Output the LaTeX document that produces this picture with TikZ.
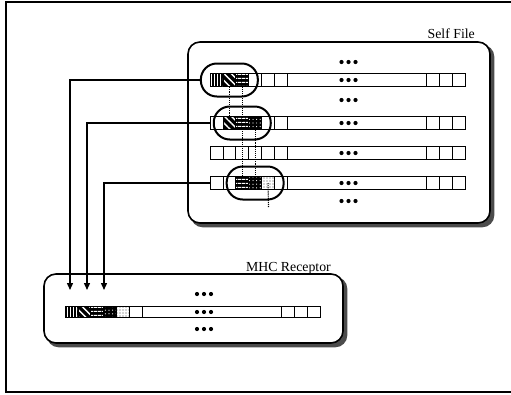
\documentclass[tikz,border=0pt]{standalone}
\usepackage{fontspec}
\setmainfont{Liberation Serif}
\usetikzlibrary{arrows.meta, patterns.meta, backgrounds, calc}
\tikzset{
  every node/.style={font=\fontsize{13.8}{16}\selectfont},
  filebox/.style = {rectangle, draw=black, line width=1.6pt, rounded corners=12pt, fill=white},
  shade/.style   = {fill=black!70, rounded corners=12pt},
  cell/.style  = {rectangle, draw=black, line width=0.7pt, fill=white, inner sep=0pt,
                  minimum width=12.9pt, minimum height=13pt},
  mcell/.style = {cell, minimum height=11pt},
  seg/.style   = {minimum width=139.3pt},
  pw/.style = {},
  pv/.style = {preaction={fill=black}, pattern={Lines[angle=90, distance=3.2pt, line width=0.7pt]}, pattern color=white},
  pd/.style = {preaction={fill=black}, pattern={Lines[angle=-45, distance=5pt, line width=1.4pt]}, pattern color=white},
  ph/.style = {preaction={fill=black}, pattern={Lines[angle=0, distance=4pt, line width=1.1pt]}, pattern color=white},
  pk/.style = {preaction={fill=black}, pattern={Dots[radius=0.6pt, distance=3.6pt, xshift=1pt, yshift=1pt]}, pattern color=white},
  pl/.style = {pattern={Dots[radius=0.6pt, distance=3pt]}, pattern color=black!70},
  ring/.style  = {rectangle, draw=black, line width=2pt, rounded corners=16pt,
                  minimum width=57pt, minimum height=33pt},
  arrow/.style = {-{Triangle[length=7pt,width=6pt]}, line width=1.3pt},
  trace/.style = {densely dotted, line width=1.1pt},
  title/.style = {inner sep=0pt, anchor=base east},
}

\begin{document}
\begin{tikzpicture}[x=1pt, y=-1pt]
  \useasboundingbox (0,0) rectangle (511,394);
  \draw[line width=1.2pt] (511,2) -- (6,2) -- (6,392) -- (511,392);

  % the two files
  \node[filebox, minimum width=302pt, minimum height=181pt] (self) at (339,132.5) {};
  \node[title] (selft) at (475,38) {Self File};
  \node[filebox, minimum width=299pt, minimum height=69pt] (mhc) at (193.5,308.5) {};
  \node[title] (mhct) at (331,271) {MHC Receptor};
  \begin{scope}[on background layer]
    \fill[shade] ($(self.south west)+(3.5,3.5)$) rectangle ($(self.north east)+(3.5,3.5)$);
    \fill[shade] ($(mhc.south west)+(3.5,3.5)$) rectangle ($(mhc.north east)+(3.5,3.5)$);
  \end{scope}

  % strings of the self file
  \foreach \row/\yy/\pats in {1/80/{pv,pd,ph,pw,pw,pw}, 2/123/{pw,pd,ph,pk,pw,pw},
                              3/153/{pw,pw,pw,pw,pw,pw}, 4/183/{pw,pw,ph,pk,pl,pw}} {
    \foreach \s [count=\i] in \pats
      \node[cell, \s] (r\row-\i) at ({210+\i*12.9-6.45}, \yy) {};
    \node[cell, seg] (r\row-L) at (357.05, \yy) {};
    \foreach \i in {7,8,9}
      \node[cell] (r\row-\i) at ({433.15+(\i-7)*12.9}, \yy) {};
  }

  % receptor string
  \foreach \s [count=\i] in {pv,pd,ph,pk,pl,pw}
    \node[mcell, \s] (m-\i) at ({65+\i*12.9-6.45}, 312) {};
  \node[mcell, seg] (m-L) at (212.05, 312) {};
  \foreach \i in {7,8,9}
    \node[mcell] (m-\i) at ({288.15+(\i-7)*12.9}, 312) {};

  % matched windows
  \node[ring] (e1) at (r1-2) {};
  \node[ring] (e2) at (r2-3) {};
  \node[ring] (e3) at (r4-4) {};

  \draw[trace] (r1-2.south) -- (r2-2.north);
  \draw[trace] (r1-3.south) -- (r4-3.north);
  \draw[trace] (r2-4.south) -- (r4-4.north);
  \coordinate (tail) at (268.5,207);
  \draw[trace] (r4-5.center) -- (tail);

  % ellipsis dots
  \foreach \yy in {62,80,100,123,153,183,201}
    \foreach \dx in {-7,0,7}
      \fill ({348.5+\dx},\yy) circle (2.1);
  \foreach \yy in {294,312,329}
    \foreach \dx in {-7,0,7}
      \fill ({204+\dx},\yy) circle (2.1);

  % connectors
  \coordinate (in1) at (70,290);
  \coordinate (in2) at (87,290);
  \coordinate (in3) at (104,290);
  \draw[arrow] (e1.west)   -| (in1);
  \draw[arrow] (r2-1.west) -| (in2);
  \draw[arrow] (r4-1.west) -| (in3);
\end{tikzpicture}
\end{document}
